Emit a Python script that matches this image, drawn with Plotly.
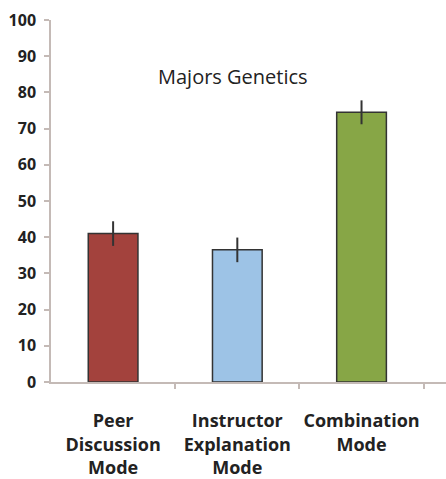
import plotly.graph_objects as go

categories = ["Peer<br>Discussion<br>Mode", "Instructor<br>Explanation<br>Mode", "Combination<br>Mode"]
values = [41, 36.5, 74.5]
errors = [3.4, 3.4, 3.3]
colors = ["#a3423d", "#9dc3e6", "#87a646"]
y_ticks = [0, 10, 20, 30, 40, 50, 60, 70, 80, 90, 100]
title_text = "Majors Genetics"

fig = go.Figure()
fig.add_trace(go.Bar(
    x=[0, 1, 2],
    y=values,
    width=0.40,
    marker=dict(color=colors, line=dict(color="#333333", width=1.5)),
    error_y=dict(type="data", array=errors, visible=True, color="#333333", thickness=2, width=0),
))

axis_color = "#c4bab6"
fig.update_layout(
    width=446, height=479,
    margin=dict(l=51, r=0, t=20, b=90),
    plot_bgcolor="white", paper_bgcolor="white",
    showlegend=False,
    font=dict(family="Open Sans, Liberation Sans, Arial", color="#222222"),
    xaxis=dict(
        range=[-0.5, 2.68],
        tickvals=[0, 1, 2],
        ticktext=categories,
        showline=True, linecolor=axis_color, linewidth=1.5,
        showgrid=False, zeroline=False,
        ticks="",
        tickfont=dict(size=18, family="Open Sans, Arial", color="#222222", weight="bold"),
        ticklabelstandoff=22,
    ),
    yaxis=dict(
        range=[0, 100],
        tickvals=y_ticks,
        showline=True, linecolor=axis_color, linewidth=1.5,
        showgrid=False, zeroline=False,
        ticks="outside", ticklen=5, tickcolor=axis_color, tickwidth=1.5,
        tickfont=dict(size=16, family="Open Sans, Arial", color="#222222", weight="bold"),
        ticklabelstandoff=5,
    ),
    annotations=[dict(
        text=title_text, x=0.46, y=84.5, xref="paper", yref="y",
        showarrow=False, font=dict(size=20, family="Open Sans, Arial", color="#222222"),
    )],
)

fig.update_xaxes(minor=dict(tickvals=[0.5, 1.5, 2.5], ticks="outside", ticklen=5, tickcolor=axis_color, tickwidth=1.5))

fig.write_html(
    "out.html",
    config={"displayModeBar": False},
    post_script="document.body.style.margin='0';document.body.style.overflow='hidden';",
)
